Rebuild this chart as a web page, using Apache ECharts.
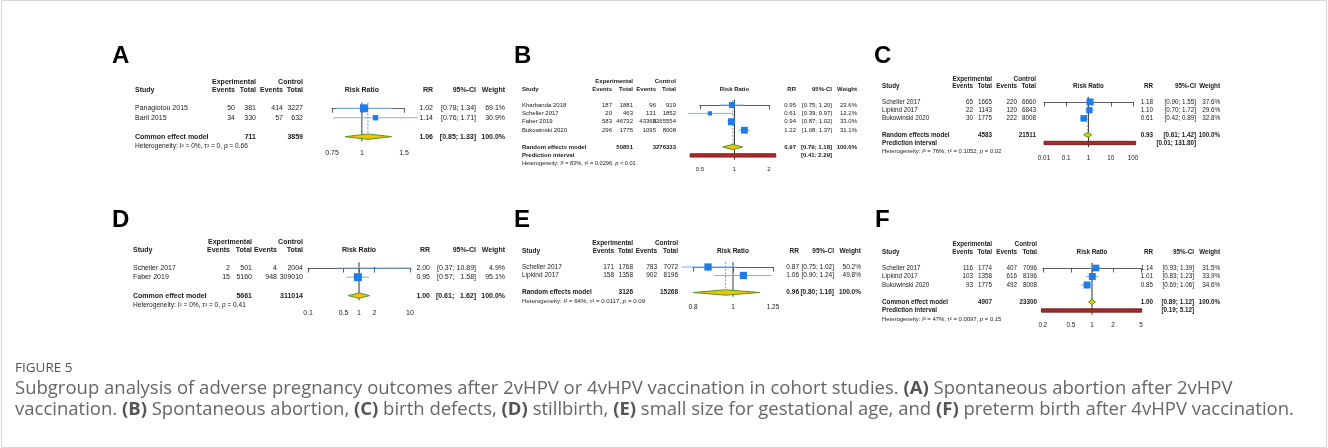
<!DOCTYPE html>
<html><head><meta charset="utf-8">
<script src="https://cdn.jsdelivr.net/npm/echarts@6/dist/echarts.min.js"></script>
<style>html,body{margin:0;padding:0;background:#fff}#c{width:1328px;height:448px}</style>
</head><body><div id="c"></div>
<script>
// ---------- DATA ----------
const A_studies = ['Panagiotou 2015', 'Baril 2015'];
const A_expEvents = [50, 34];
const A_expTotal = [381, 330];
const A_ctlEvents = [414, 57];
const A_ctlTotal = [3227, 632];
const A_rr = [1.02, 1.14];
const A_lo = [0.78, 0.76];
const A_hi = [1.34, 1.71];
const A_weight = [69.1, 30.9];
const A_pooled = [1.06, 0.85, 1.33];
const A_totals = [711, 3859];
const A_predict = null;
const A_model = 'Common effect model';
const A_het = ['0%', '0', '= 0.66'];
const A_ticks = [0.75, 1, 1.5];

const B_studies = ['Kharbanda 2018', 'Scheller 2017', 'Faber 2019', 'Bukowinski 2020'];
const B_expEvents = [187, 20, 583, 296];
const B_expTotal = [1881, 463, 46732, 1775];
const B_ctlEvents = [96, 131, 43366, 1095];
const B_ctlTotal = [919, 1852, 3265554, 8008];
const B_rr = [0.95, 0.61, 0.94, 1.22];
const B_lo = [0.75, 0.39, 0.87, 1.08];
const B_hi = [1.20, 0.97, 1.02, 1.37];
const B_weight = [23.6, 12.2, 33.0, 31.1];
const B_pooled = [0.97, 0.79, 1.18];
const B_totals = [50851, 3276333];
const B_predict = [0.41, 2.29];
const B_model = 'Random effects model';
const B_het = ['83%', '0.0296', '< 0.01'];
const B_ticks = [0.5, 1, 2];

const C_studies = ['Scheller 2017', 'Lipkind 2017', 'Bukowinski 2020'];
const C_expEvents = [65, 22, 30];
const C_expTotal = [1665, 1143, 1775];
const C_ctlEvents = [220, 120, 222];
const C_ctlTotal = [6660, 6843, 8008];
const C_rr = [1.18, 1.10, 0.61];
const C_lo = [0.90, 0.70, 0.42];
const C_hi = [1.55, 1.72, 0.89];
const C_weight = [37.6, 29.6, 32.8];
const C_pooled = [0.93, 0.61, 1.42];
const C_totals = [4583, 21511];
const C_predict = [0.01, 131.80];
const C_model = 'Random effects model';
const C_het = ['76%', '0.1052', '= 0.02'];
const C_ticks = [0.01, 0.1, 1, 10, 100];

const D_studies = ['Scheller 2017', 'Faber 2019'];
const D_expEvents = [2, 15];
const D_expTotal = [501, 5160];
const D_ctlEvents = [4, 948];
const D_ctlTotal = [2004, 309010];
const D_rr = [2.00, 0.95];
const D_lo = [0.37, 0.57];
const D_hi = [10.89, 1.58];
const D_weight = [4.9, 95.1];
const D_pooled = [1.00, 0.61, 1.62];
const D_totals = [5661, 311014];
const D_predict = null;
const D_model = 'Common effect model';
const D_het = ['0%', '0', '= 0.41'];
const D_ticks = [0.1, 0.5, 1, 2, 10];

const E_studies = ['Scheller 2017', 'Lipkind 2017'];
const E_expEvents = [171, 158];
const E_expTotal = [1768, 1358];
const E_ctlEvents = [783, 902];
const E_ctlTotal = [7072, 8196];
const E_rr = [0.87, 1.06];
const E_lo = [0.75, 0.90];
const E_hi = [1.02, 1.24];
const E_weight = [50.2, 49.8];
const E_pooled = [0.96, 0.80, 1.16];
const E_totals = [3126, 15268];
const E_predict = null;
const E_model = 'Random effects model';
const E_het = ['64%', '0.0117', '= 0.09'];
const E_ticks = [0.8, 1, 1.25];

const F_studies = ['Scheller 2017', 'Lipkind 2017', 'Bukowinski 2020'];
const F_expEvents = [116, 103, 93];
const F_expTotal = [1774, 1358, 1775];
const F_ctlEvents = [407, 616, 492];
const F_ctlTotal = [7096, 8196, 8008];
const F_rr = [1.14, 1.01, 0.85];
const F_lo = [0.93, 0.83, 0.69];
const F_hi = [1.39, 1.23, 1.06];
const F_weight = [31.5, 33.9, 34.6];
const F_pooled = [1.00, 0.89, 1.12];
const F_totals = [4907, 23300];
const F_predict = [0.19, 5.12];
const F_model = 'Common effect model';
const F_het = ['47%', '0.0097', '= 0.15'];
const F_ticks = [0.2, 0.5, 1, 2, 5];

// ---------- PANELS ----------
const PANELS = [
  {id:'A', studies:A_studies, ee:A_expEvents, et:A_expTotal, ce:A_ctlEvents, ct:A_ctlTotal, rr:A_rr, lo:A_lo, hi:A_hi, w:A_weight, pooled:A_pooled, totals:A_totals, pi:A_predict, model:A_model, het:A_het, ticks:A_ticks},
  {id:'B', studies:B_studies, ee:B_expEvents, et:B_expTotal, ce:B_ctlEvents, ct:B_ctlTotal, rr:B_rr, lo:B_lo, hi:B_hi, w:B_weight, pooled:B_pooled, totals:B_totals, pi:B_predict, model:B_model, het:B_het, ticks:B_ticks},
  {id:'C', studies:C_studies, ee:C_expEvents, et:C_expTotal, ce:C_ctlEvents, ct:C_ctlTotal, rr:C_rr, lo:C_lo, hi:C_hi, w:C_weight, pooled:C_pooled, totals:C_totals, pi:C_predict, model:C_model, het:C_het, ticks:C_ticks},
  {id:'D', studies:D_studies, ee:D_expEvents, et:D_expTotal, ce:D_ctlEvents, ct:D_ctlTotal, rr:D_rr, lo:D_lo, hi:D_hi, w:D_weight, pooled:D_pooled, totals:D_totals, pi:D_predict, model:D_model, het:D_het, ticks:D_ticks},
  {id:'E', studies:E_studies, ee:E_expEvents, et:E_expTotal, ce:E_ctlEvents, ct:E_ctlTotal, rr:E_rr, lo:E_lo, hi:E_hi, w:E_weight, pooled:E_pooled, totals:E_totals, pi:E_predict, model:E_model, het:E_het, ticks:E_ticks},
  {id:'F', studies:F_studies, ee:F_expEvents, et:F_expTotal, ce:F_ctlEvents, ct:F_ctlTotal, rr:F_rr, lo:F_lo, hi:F_hi, w:F_weight, pooled:F_pooled, totals:F_totals, pi:F_predict, model:F_model, het:F_het, ticks:F_ticks}
];

// ---------- LAYOUT (pixels) ----------
const LAYOUT = {
  A:{fs:7,   lab:[112,56],  studyX:135, cols:[235,256,283,303],    plot:[332,404],   y0:108.3, step:9.45, rrR:433, ciR:476, wR:505, sq:8,   lm:8},
  B:{fs:6,   lab:[514,56],  studyX:522, cols:[612,633,656,676],    plot:[700,769],   y0:105,   step:8.4,  rrR:796, ciR:832, wR:857, sq:7,   lm:6.5},
  C:{fs:6.3, lab:[874,56],  studyX:882, cols:[973,992,1017,1036],  plot:[1044,1133], y0:102,   step:8.2,  rrR:1153,ciR:1196,wR:1220,sq:7,   lm:8},
  D:{fs:7,   lab:[112,220.5],studyX:133, cols:[230,252,277,303],   plot:[308,410],   y0:268,   step:9.2,  rrR:430, ciR:476, wR:505, sq:8,   lm:9},
  E:{fs:6.5, lab:[514,220.5],studyX:522, cols:[614,633,657,678],   plot:[693,773],   y0:267,   step:8.5,  rrR:799, ciR:834, wR:861, sq:7.3, lm:7},
  F:{fs:6.3, lab:[875,220.5],studyX:882, cols:[973,992,1017,1037], plot:[1043,1141], y0:268,   step:8.5,  rrR:1153,ciR:1194,wR:1220,sq:7,   lm:8}
};

const FONT = '"Liberation Sans", Arial, Helvetica, sans-serif';
const TXT = '#1a1a1a';
const SQ_COLOR = '#1f7be8';
const CI_COLOR = '#78b4f0';

function fmtTick(v, ticks) {
  let best = ticks[0];
  ticks.forEach(t => { if (Math.abs(Math.log(v) - Math.log(t)) < Math.abs(Math.log(v) - Math.log(best))) best = t; });
  return String(best);
}
function t(x, y, s, fs, opt) {
  opt = opt || {};
  return {type:'text', x:x, y:y, silent:true, style:{text:s, fill:TXT, fontSize:fs, fontFamily:FONT,
    fontWeight:opt.bold ? 'bold' : 'normal', align:opt.align || 'left', verticalAlign:'middle'}};
}

const grids = [], xAxes = [], yAxes = [], series = [], graphics = [];

PANELS.forEach((p, i) => {
  const L = LAYOUT[p.id];
  const k = p.studies.length;
  const poolRow = k + 1;
  const piRow = p.pi ? k + 2 : null;
  const lastRow = p.pi ? piRow : poolRow;
  const hetRow = lastRow + 1;
  const yTop = -0.6, yBot = lastRow + 0.5;
  const top = L.y0 + yTop * L.step, bottom = L.y0 + yBot * L.step;
  const maxW = Math.max.apply(null, p.w);

  grids.push({left:L.plot[0], width:L.plot[1] - L.plot[0], top:top, height:bottom - top, outerBoundsMode:'none', containLabel:false});
  xAxes.push({
    gridIndex:i, type:'log', logBase:10, min:p.ticks[0], max:p.ticks[p.ticks.length - 1],
    axisLine:{show:true, lineStyle:{color:'#333', width:0.8}},
    axisTick:{show:true, customValues:p.ticks, length:4.5, inside:false, lineStyle:{color:'#333', width:0.8}},
    axisLabel:{show:true, customValues:p.ticks, fontSize:L.fs, fontFamily:FONT, color:'#222', margin:L.lm,
      formatter:v => fmtTick(v, p.ticks)},
    splitLine:{show:false}, minorTick:{show:false}, minorSplitLine:{show:false}
  });
  yAxes.push({gridIndex:i, type:'value', min:yTop, max:yBot, inverse:true, show:false});

  // reference line, pooled dashed line, diamond, prediction interval
  series.push({
    type:'custom', xAxisIndex:i, yAxisIndex:i, clip:false, silent:true, z:2,
    encode:{x:0, y:1},
    data:[[p.pooled[0], poolRow, p.pooled[1], p.pooled[2]]],
    renderItem:(params, api) => {
      const ch = [];
      const r1 = api.coord([1, yTop]), r2 = api.coord([1, yBot]);
      ch.push({type:'line', shape:{x1:r1[0], y1:r1[1], x2:r2[0], y2:r2[1]}, style:{stroke:'#3c3c3c', lineWidth:1}});
      const c = api.coord([api.value(0), api.value(1)]);
      const d1 = api.coord([api.value(0), yTop]);
      ch.push({type:'line', shape:{x1:d1[0], y1:d1[1], x2:c[0], y2:c[1]}, style:{stroke:'#808080', lineWidth:0.9, lineDash:[2, 1.5]}});
      const lo = api.coord([api.value(2), api.value(1)]), hi = api.coord([api.value(3), api.value(1)]);
      ch.push({type:'polygon', shape:{points:[[lo[0], c[1]], [c[0], c[1] - 2.7], [hi[0], c[1]], [c[0], c[1] + 2.7]]},
        style:{fill:'#f2c200', stroke:'#4f9a2e', lineWidth:1}});
      if (p.pi) {
        const a = api.coord([p.pi[0], piRow]), b = api.coord([p.pi[1], piRow]);
        ch.push({type:'rect', shape:{x:a[0], y:a[1] - 1.7, width:b[0] - a[0], height:3.4},
          style:{fill:'#b3262a', stroke:'#5a1717', lineWidth:0.8}});
      }
      return {type:'group', children:ch};
    }
  });

  // study squares + CI lines
  series.push({
    type:'custom', xAxisIndex:i, yAxisIndex:i, clip:false, silent:true, z:3,
    encode:{x:0, y:1},
    data:p.rr.map((v, j) => [v, j, p.lo[j], p.hi[j], p.w[j]]),
    renderItem:(params, api) => {
      const c = api.coord([api.value(0), api.value(1)]);
      const a = api.coord([api.value(2), api.value(1)]);
      const b = api.coord([api.value(3), api.value(1)]);
      const s = Math.max(1.6, L.sq * Math.sqrt(api.value(4) / maxW));
      return {type:'group', children:[
        {type:'line', shape:{x1:a[0], y1:a[1], x2:b[0], y2:b[1]}, style:{stroke:CI_COLOR, lineWidth:1}},
        {type:'rect', shape:{x:c[0] - s / 2, y:c[1] - s / 2, width:s, height:s}, style:{fill:SQ_COLOR}}
      ]};
    }
  });

  // table text
  const hiMaxLen = Math.max.apply(null, p.hi.concat([p.pooled[2]]).map(v => v.toFixed(2).length));
  const ci = (lo, hi, pad) => {
    let h = hi.toFixed(2);
    if (pad) while (h.length < hiMaxLen) h = '\u2007' + h;
    return '[' + lo.toFixed(2) + '; ' + h + ']';
  };
  series.push({
    type:'custom', xAxisIndex:i, yAxisIndex:i, clip:false, silent:true, z:4,
    encode:{x:0, y:1},
    data:[[1, 0]],
    renderItem:(params, api) => {
      const Y = r => api.coord([1, r])[1];
      const X1 = api.coord([1, 0])[0];
      const fs = L.fs, ch = [];
      const h1 = Y(-2.8), h2 = Y(-1.9);
      ch.push(t(L.cols[1], h1, 'Experimental', fs, {bold:1, align:'right'}));
      ch.push(t(L.cols[3], h1, 'Control', fs, {bold:1, align:'right'}));
      ch.push(t(L.studyX, h2, 'Study', fs, {bold:1}));
      ch.push(t(L.cols[0], h2, 'Events', fs, {bold:1, align:'right'}));
      ch.push(t(L.cols[1], h2, 'Total', fs, {bold:1, align:'right'}));
      ch.push(t(L.cols[2], h2, 'Events', fs, {bold:1, align:'right'}));
      ch.push(t(L.cols[3], h2, 'Total', fs, {bold:1, align:'right'}));
      ch.push(t(X1, h2, 'Risk Ratio', fs, {bold:1, align:'center'}));
      ch.push(t(L.rrR, h2, 'RR', fs, {bold:1, align:'right'}));
      ch.push(t(L.ciR, h2, '95%-CI', fs, {bold:1, align:'right'}));
      ch.push(t(L.wR, h2, 'Weight', fs, {bold:1, align:'right'}));
      p.studies.forEach((s, j) => {
        const y = Y(j);
        ch.push(t(L.studyX, y, s, fs));
        ch.push(t(L.cols[0], y, String(p.ee[j]), fs, {align:'right'}));
        ch.push(t(L.cols[1], y, String(p.et[j]), fs, {align:'right'}));
        ch.push(t(L.cols[2], y, String(p.ce[j]), fs, {align:'right'}));
        ch.push(t(L.cols[3], y, String(p.ct[j]), fs, {align:'right'}));
        ch.push(t(L.rrR, y, p.rr[j].toFixed(2), fs, {align:'right'}));
        ch.push(t(L.ciR, y, ci(p.lo[j], p.hi[j], true), fs, {align:'right'}));
        ch.push(t(L.wR, y, p.w[j].toFixed(1) + '%', fs, {align:'right'}));
      });
      const yp = Y(poolRow);
      ch.push(t(L.studyX, yp, p.model, fs, {bold:1}));
      ch.push(t(L.cols[1], yp, String(p.totals[0]), fs, {bold:1, align:'right'}));
      ch.push(t(L.cols[3], yp, String(p.totals[1]), fs, {bold:1, align:'right'}));
      ch.push(t(L.rrR, yp, p.pooled[0].toFixed(2), fs, {bold:1, align:'right'}));
      ch.push(t(L.ciR, yp, ci(p.pooled[1], p.pooled[2], true), fs, {bold:1, align:'right'}));
      ch.push(t(L.wR, yp, '100.0%', fs, {bold:1, align:'right'}));
      if (p.pi) {
        const yq = Y(piRow);
        ch.push(t(L.studyX, yq, 'Prediction interval', fs, {bold:1}));
        ch.push(t(L.ciR, yq, ci(p.pi[0], p.pi[1], false), fs, {bold:1, align:'right'}));
      }
      const hf = fs * 0.94;
      const base = {fill:TXT, fontSize:hf, fontFamily:FONT};
      ch.push({type:'text', x:L.studyX, y:Y(hetRow), silent:true, style:{
        text:'{a|Heterogeneity: }{i|I}{a|\u00b2 = ' + p.het[0] + ', \u03c4\u00b2 = ' + p.het[1] + ', }{i|p}{a| ' + p.het[2] + '}',
        verticalAlign:'middle', align:'left', fontSize:hf, fontFamily:FONT, fill:TXT,
        rich:{a:base, i:Object.assign({fontStyle:'italic'}, base)}}});
      return {type:'group', children:ch};
    }
  });

  graphics.push({type:'text', x:L.lab[0], y:L.lab[1], silent:true,
    style:{text:p.id, fontSize:24, fontWeight:'bold', fontFamily:FONT, fill:'#000', verticalAlign:'middle'}});
});

// frame + caption
graphics.push({type:'rect', silent:true, shape:{x:1.5, y:0.5, width:1325, height:447}, style:{fill:null, stroke:'#d6d6d6', lineWidth:1}});
const CAP = '"Open Sans", "Noto Sans", sans-serif';
graphics.push({type:'text', x:15, y:368, silent:true, style:{text:'FIGURE 5', fontSize:13.5, fontFamily:CAP, fill:'#555', verticalAlign:'middle'}});
const capRich = {n:{fontSize:18.5, fontFamily:CAP, fill:'#666'}, b:{fontSize:18.5, fontFamily:CAP, fill:'#555', fontWeight:'bold'}};
graphics.push({type:'text', x:15, y:389, silent:true, style:{
  text:'{n|Subgroup analysis of adverse pregnancy outcomes after 2vHPV or 4vHPV vaccination in cohort studies. }{b|(A)}{n| Spontaneous abortion after 2vHPV}',
  verticalAlign:'middle', rich:capRich}});
graphics.push({type:'text', x:15, y:410, silent:true, style:{
  text:'{n|vaccination. }{b|(B)}{n| Spontaneous abortion, }{b|(C)}{n| birth defects, }{b|(D)}{n| stillbirth, }{b|(E)}{n| small size for gestational age, and }{b|(F)}{n| preterm birth after 4vHPV vaccination.}',
  verticalAlign:'middle', rich:capRich}});

const chart = echarts.init(document.getElementById('c'), null, {renderer:'canvas'});
chart.setOption({
  animation:false, backgroundColor:'#fff',
  grid:grids, xAxis:xAxes, yAxis:yAxes, series:series, graphic:graphics
});
</script></body></html>
